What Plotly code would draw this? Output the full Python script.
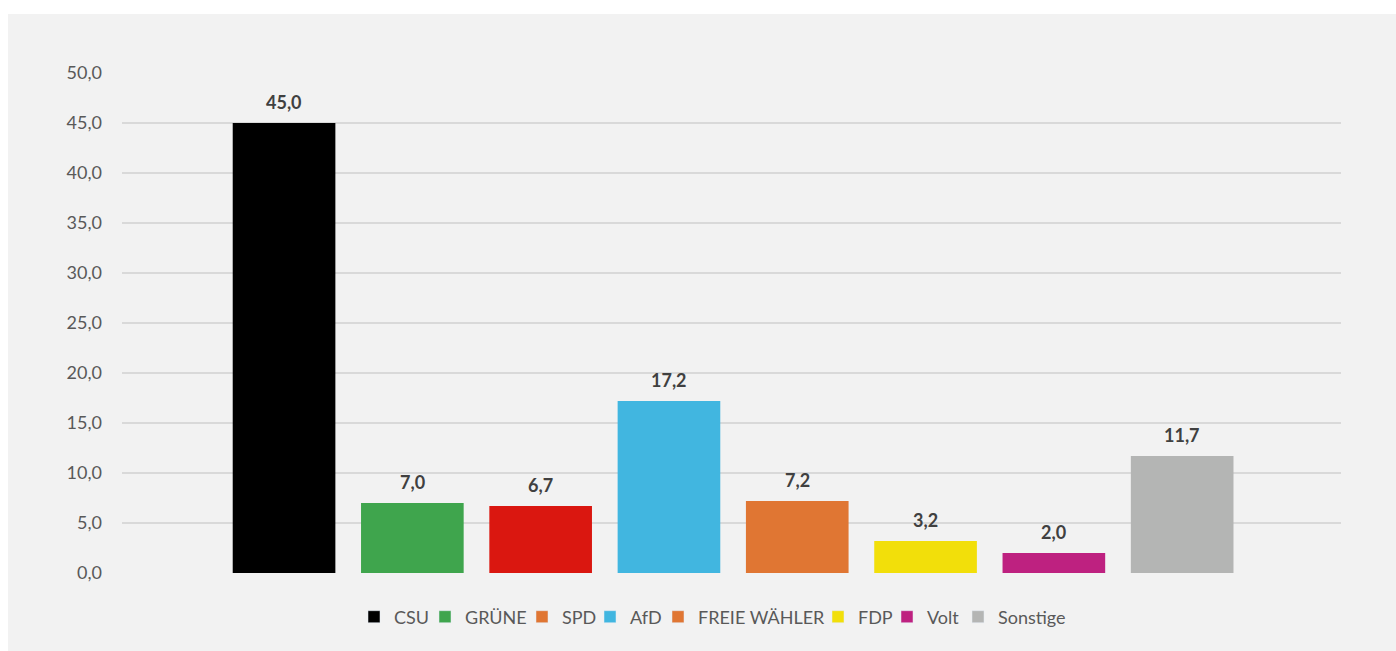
import plotly.graph_objects as go

parties = ["CSU", "GRÜNE", "SPD", "AfD", "FREIE WÄHLER", "FDP", "Volt", "Sonstige"]
values = [45.0, 7.0, 6.7, 17.2, 7.2, 3.2, 2.0, 11.7]
bar_colors = ["#000000", "#3fa54d", "#da1710", "#41b6e0", "#e07633", "#f2df0a", "#be2180", "#b4b5b4"]
legend_colors = ["#000000", "#3fa54d", "#e07633", "#41b6e0", "#e07633", "#f2df0a", "#be2180", "#b4b5b4"]
legend_widths = [26, 52, 23, 23, 115, 24, 26, 68]
y_ticks = [0, 5, 10, 15, 20, 25, 30, 35, 40, 45, 50]

FONT = "Lato"

fig = go.Figure()
fig.add_trace(go.Bar(
    x=parties, y=values, marker=dict(color=bar_colors, line=dict(width=0)),
    showlegend=False, hoverinfo="x+y",
))
for name, col, lw in zip(parties, legend_colors, legend_widths):
    fig.add_trace(go.Bar(x=[None], y=[None], name=name, marker=dict(color=col),
                         showlegend=True, legendwidth=lw))

for p, v in zip(parties, values):
    fig.add_annotation(
        x=p, y=v, text=f"{v:.1f}".replace(".", ","), showarrow=False,
        yanchor="bottom", yshift=8,
        font=dict(family=FONT, size=18, color="#404040", weight="bold"),
    )

L, R, T, B = 122, 55, 73, 78
W, H = 1396, 651
pw, ph = W - L - R, H - T - B
fig.add_shape(
    type="rect", xref="paper", yref="paper", layer="below",
    x0=(8 - L) / pw, x1=(W + 10 - L) / pw,
    y0=-(B + 10) / ph, y1=(H - B - 14) / ph,
    fillcolor="#f2f2f2", line=dict(width=0),
)

fig.update_layout(
    width=W, height=H,
    margin=dict(l=L, r=R, t=T, b=B),
    paper_bgcolor="white", plot_bgcolor="rgba(0,0,0,0)",
    separators=",.",
    barmode="overlay", bargap=0.2,
    font=dict(family=FONT, size=18, color="#595959"),
    xaxis=dict(
        type="category", categoryorder="array", categoryarray=parties,
        range=[-1.263, 8.238], showticklabels=False, showgrid=False,
        zeroline=False, showline=False, fixedrange=True,
    ),
    yaxis=dict(
        range=[0, 50], tickvals=y_ticks, tickformat=".1f",
        showgrid=True, gridcolor="#d9d9d9", gridwidth=2,
        zeroline=False, showline=False, ticks="",
        ticklabelstandoff=19,
        tickfont=dict(family=FONT, size=18, color="#595959"),
    ),
    legend=dict(
        orientation="h", xref="paper", yref="paper",
        x=(354 - L) / pw, xanchor="left",
        y=-(617 - (H - B)) / ph, yanchor="middle",
        font=dict(family=FONT, size=18, color="#595959"),
        bgcolor="rgba(0,0,0,0)", traceorder="normal",
    ),
)

fig.write_html("out.html", config={"displayModeBar": False},
               post_script="document.body.style.margin='0';")
